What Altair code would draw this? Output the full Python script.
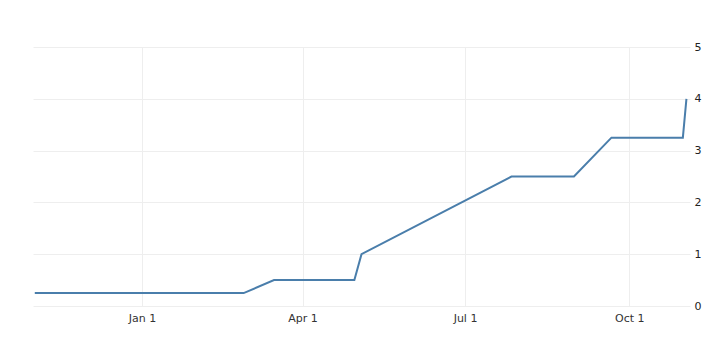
import altair as alt
import pandas as pd

dates = ["2021-11-02", "2022-02-27", "2022-03-16", "2022-04-30", "2022-05-04",
         "2022-07-27", "2022-08-31", "2022-09-21", "2022-10-31", "2022-11-02"]
rates = [0.25, 0.25, 0.5, 0.5, 1.0, 2.5, 2.5, 3.25, 3.25, 4.0]
tick_dates = ["2022-01-01", "2022-04-01", "2022-07-01", "2022-10-01"]
y_ticks = [0, 1, 2, 3, 4, 5]

df = pd.DataFrame({"date": pd.to_datetime(dates), "rate": rates})

tick_vals = [alt.DateTime(year=int(d[:4]), month=int(d[5:7]), date=int(d[8:10])) for d in tick_dates]

chart = alt.Chart(df).mark_line(color="#4a7eab", strokeWidth=2).encode(
    x=alt.X("date:T",
            scale=alt.Scale(domain=[alt.DateTime(year=2021, month=11, date=1),
                                    alt.DateTime(year=2022, month=11, date=4)]),
            axis=alt.Axis(title=None, values=tick_vals, format="%b %-d", domain=False,
                          ticks=False, labelPadding=6, labelFontSize=11,
                          labelColor="#333333", labelFont="DejaVu Sans",
                          gridColor="#eeeeee", labelFlush=False)),
    y=alt.Y("rate:Q", scale=alt.Scale(domain=[0, 5], nice=False, zero=True),
            axis=alt.Axis(title=None, orient="right", values=y_ticks, domain=False,
                          ticks=False, labelPadding=4, labelFontSize=11,
                          labelColor="#222222", labelFont="DejaVu Sans",
                          gridColor="#eeeeee")),
).properties(
    width=657, height=259,
    background="white",
    autosize=alt.AutoSizeParams(type="none"),
    padding={"left": 33, "top": 47, "right": 29, "bottom": 31},
).configure_view(strokeWidth=0)

chart.save("out.html", embed_options={"renderer": "svg", "actions": False})
